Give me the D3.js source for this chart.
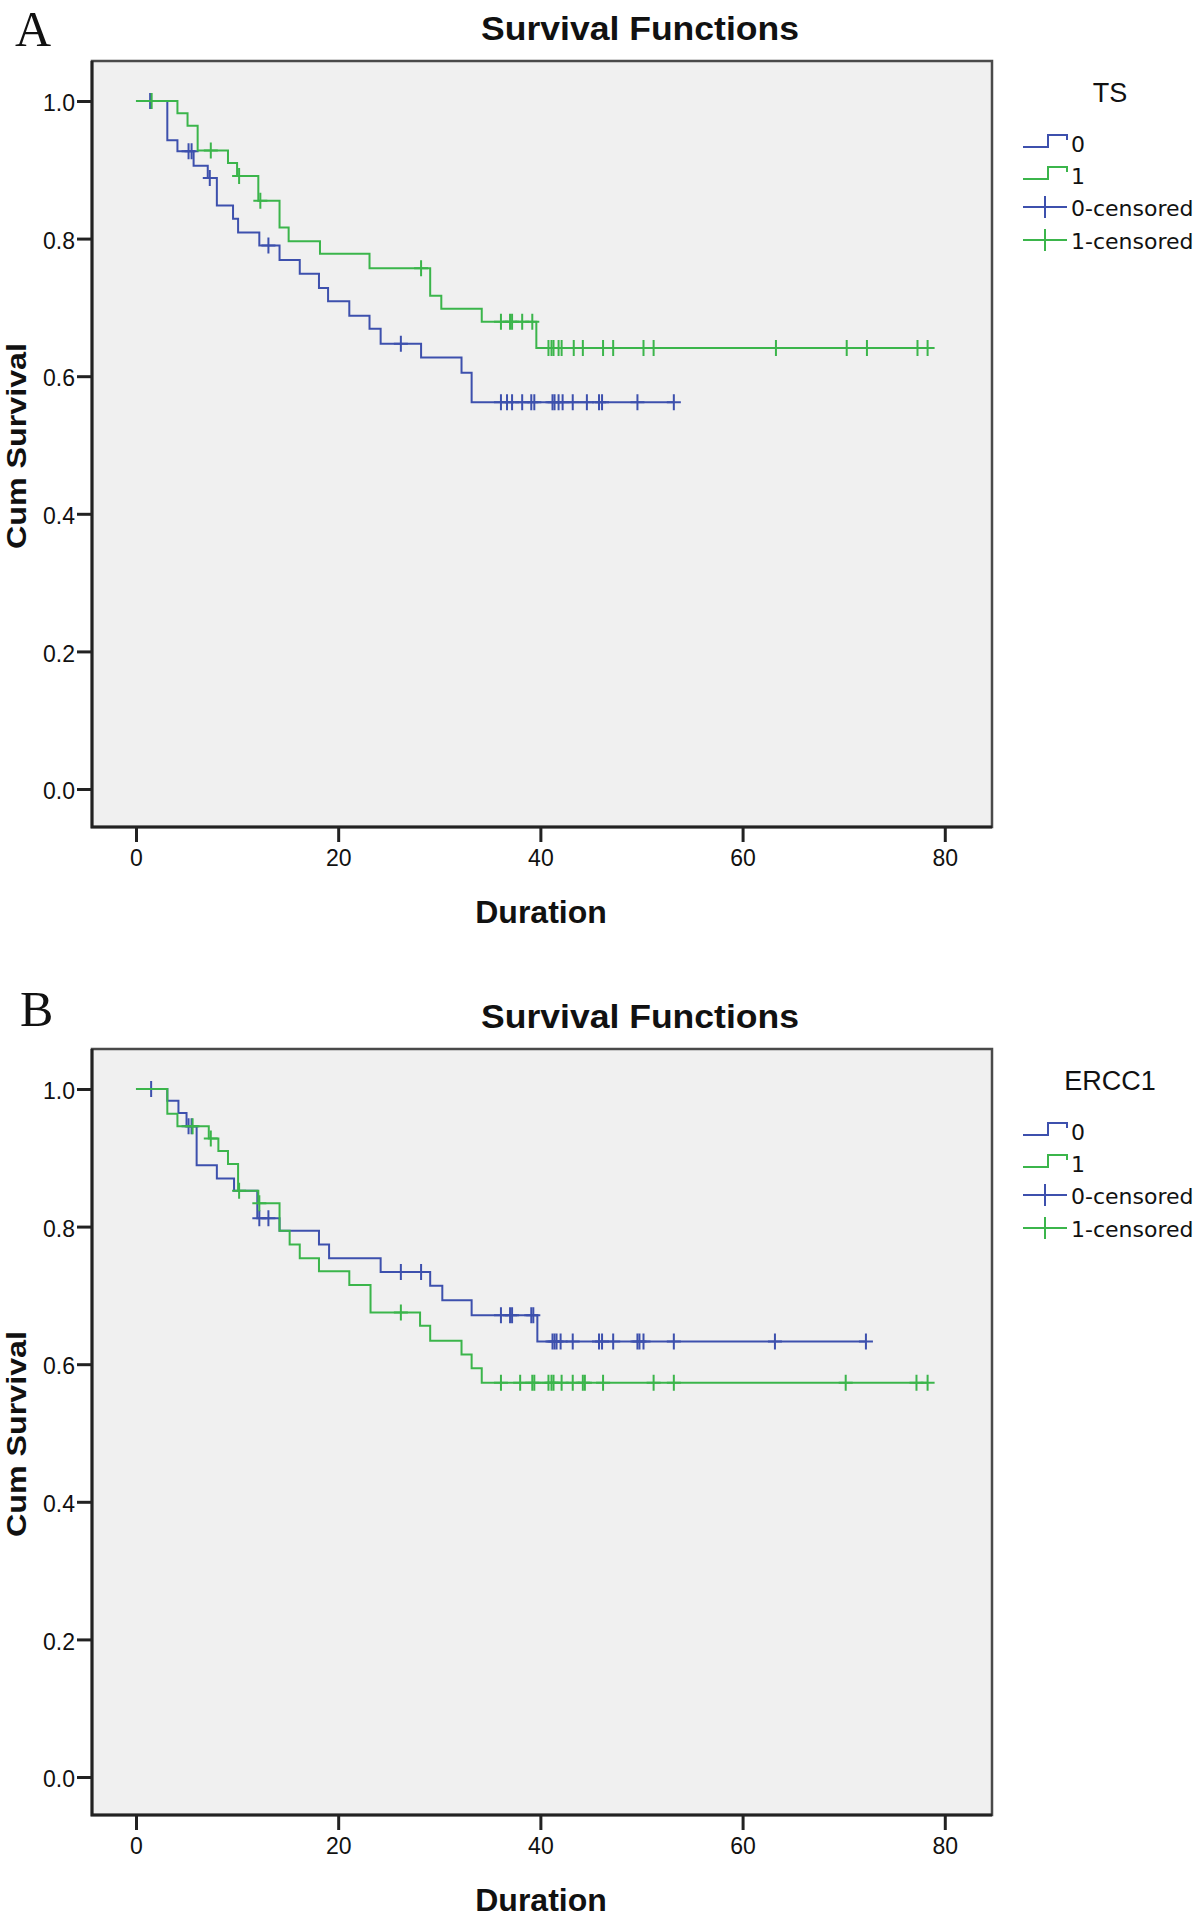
<!DOCTYPE html>
<html>
<head>
<meta charset="utf-8">
<script src="https://cdn.jsdelivr.net/npm/d3@7"></script>
<style>
  body { margin: 0; background: #fff; }
  text { font-family: "Liberation Sans", Arial, sans-serif; fill: #111; }
</style>
</head>
<body>
<div id="chart"></div>
<script>
// Panel A - TS
var tsTimes0 = [3.1, 4.1, 5.7, 7.1, 8.0, 9.6, 10.1, 12.2, 14.2, 16.2, 18.1, 19.0, 21.1, 23.1, 24.2, 28.2, 32.2, 33.2];
var tsSurv0  = [0.943, 0.927, 0.906, 0.888, 0.848, 0.829, 0.809, 0.790, 0.769, 0.749, 0.728, 0.709, 0.688, 0.669, 0.647, 0.627, 0.605, 0.562];
var tsCens0  = [1.4, 5.2, 5.5, 7.3, 13.1, 26.2, 36.1, 36.7, 37.2, 38.2, 39.1, 39.4, 41.2, 41.4, 41.8, 42.2, 43.2, 44.6, 45.8, 46.1, 49.6, 53.2];

var tsTimes1 = [4.1, 5.1, 6.1, 9.1, 10.0, 12.1, 14.2, 15.1, 18.2, 23.1, 29.1, 30.2, 34.2, 39.6];
var tsSurv1  = [0.982, 0.964, 0.928, 0.910, 0.891, 0.855, 0.816, 0.796, 0.778, 0.757, 0.717, 0.698, 0.679, 0.641];
var tsCens1  = [1.55, 7.4, 10.2, 12.3, 28.2, 36.1, 37.0, 37.2, 38.2, 39.2, 40.8, 41.1, 41.3, 41.8, 42.1, 43.3, 44.2, 46.2, 47.2, 50.2, 51.2, 63.3, 70.3, 72.3, 77.3, 78.3];

// Panel B - ERCC1
var erTimes0 = [3.1, 4.2, 5.0, 6.0, 8.0, 9.7, 12.0, 14.2, 18.1, 19.1, 24.2, 29.1, 30.3, 33.2, 39.7];
var erSurv0  = [0.983, 0.965, 0.946, 0.889, 0.870, 0.852, 0.812, 0.794, 0.774, 0.754, 0.734, 0.714, 0.693, 0.671, 0.633];
var erCens0  = [1.5, 5.2, 5.5, 12.2, 13.1, 26.2, 28.2, 36.1, 37.0, 37.2, 39.1, 39.3, 41.2, 41.4, 41.6, 42.0, 43.2, 45.8, 46.1, 47.2, 49.6, 49.8, 50.2, 53.2, 63.2, 72.2];

var erTimes1 = [3.1, 4.1, 7.2, 8.15, 9.1, 10.1, 12.1, 14.2, 15.2, 16.2, 18.1, 21.1, 23.2, 28.1, 29.1, 32.2, 33.2, 34.2];
var erSurv1  = [0.964, 0.946, 0.928, 0.910, 0.891, 0.852, 0.834, 0.794, 0.774, 0.754, 0.735, 0.715, 0.675, 0.656, 0.634, 0.614, 0.594, 0.573];
var erCens1  = [5.6, 7.4, 10.2, 12.2, 26.2, 36.1, 38.0, 39.2, 39.4, 40.8, 41.1, 41.3, 42.1, 43.2, 44.2, 44.4, 46.2, 51.2, 53.2, 70.2, 77.2, 78.3];

var xTicks = [0, 20, 40, 60, 80];
var yTicks = [0.0, 0.2, 0.4, 0.6, 0.8, 1.0];
var legendLabels = ["0", "1", "0-censored", "1-censored"];

var colors = ["#3d50ad", "#3bb54b"];

var svgWidth = 1200;
var svgHeight = 1917;

var svg = d3.select("#chart")
  .append("svg")
  .attr("width", svgWidth)
  .attr("height", svgHeight);

// plot frame (same for both panels, panel B is shifted down)
var frame = { left: 92, right: 992, top: 61, bottom: 827 };

var xScale = d3.scaleLinear()
  .domain([-4.35, 84.67])
  .range([frame.left, frame.right]);

var yScale = d3.scaleLinear()
  .domain([-0.0552, 1.0581])
  .range([frame.bottom, frame.top]);

var panels = [
  { letter: "A", letterX: 15, letterY: 46, offset: 0, legend: "TS",
    groups: [[tsTimes0, tsSurv0, tsCens0], [tsTimes1, tsSurv1, tsCens1]] },
  { letter: "B", letterX: 20, letterY: 1026, offset: 988, legend: "ERCC1",
    groups: [[erTimes0, erSurv0, erCens0], [erTimes1, erSurv1, erCens1]] }
];

function survAt(times, surv, t) {
  var s = 1;
  for (var i = 0; i < times.length; i++) {
    if (times[i] <= t) s = surv[i];
  }
  return s;
}

var stepLine = d3.line()
  .x(d => xScale(d[0]))
  .y(d => yScale(d[1]))
  .curve(d3.curveStepAfter);

panels.forEach(function(p) {
  // panel letter
  svg.append("text")
    .attr("x", p.letterX)
    .attr("y", p.letterY)
    .style("font-family", "'Liberation Serif', 'Times New Roman', serif")
    .style("font-size", "50px")
    .text(p.letter);

  var g = svg.append("g")
    .attr("transform", `translate(0, ${p.offset})`);

  // title
  g.append("text")
    .attr("x", 640)
    .attr("y", 40)
    .attr("text-anchor", "middle")
    .style("font-size", "34px")
    .style("font-weight", "bold")
    .attr("textLength", 318)
    .attr("lengthAdjust", "spacingAndGlyphs")
    .text("Survival Functions");

  // plot background
  g.append("rect")
    .attr("x", frame.left)
    .attr("y", frame.top)
    .attr("width", frame.right - frame.left)
    .attr("height", frame.bottom - frame.top)
    .attr("fill", "#f0f0f0")
    .attr("stroke", "#4a4a4a")
    .attr("stroke-width", 2.5);

  // darker left and bottom edges
  g.append("path")
    .attr("d", `M${frame.left},${frame.top} V${frame.bottom} H${frame.right}`)
    .attr("fill", "none")
    .attr("stroke", "#222")
    .attr("stroke-width", 3);

  // axes
  var yAxis = d3.axisLeft(yScale)
    .tickValues(yTicks)
    .tickFormat(d3.format(".1f"))
    .tickSize(14)
    .tickPadding(2);

  var xAxis = d3.axisBottom(xScale)
    .tickValues(xTicks)
    .tickFormat(d3.format("d"))
    .tickSize(14)
    .tickPadding(8);

  var yG = g.append("g")
    .attr("transform", `translate(${frame.left - 1}, 0)`)
    .call(yAxis);

  var xG = g.append("g")
    .attr("transform", `translate(0, ${frame.bottom + 1})`)
    .call(xAxis);

  [yG, xG].forEach(function(ax) {
    ax.select(".domain").remove();
    ax.selectAll(".tick line").attr("stroke", "#222").attr("stroke-width", 3);
    ax.selectAll(".tick text")
      .style("font-size", "23px")
      .style("font-family", "'Liberation Sans', Arial, sans-serif")
      .attr("fill", "#111");
  });
  yG.selectAll(".tick text").attr("dy", "0.42em");

  // axis labels
  g.append("text")
    .attr("transform", "translate(26, 446) rotate(-90)")
    .attr("text-anchor", "middle")
    .style("font-size", "28px")
    .style("font-weight", "bold")
    .attr("textLength", 206)
    .attr("lengthAdjust", "spacingAndGlyphs")
    .text("Cum Survival");

  g.append("text")
    .attr("x", 541)
    .attr("y", 923)
    .attr("text-anchor", "middle")
    .style("font-size", "32px")
    .style("font-weight", "bold")
    .text("Duration");

  // survival curves
  p.groups.forEach(function(grp, gi) {
    var times = grp[0], surv = grp[1], cens = grp[2];
    var endT = Math.max(times[times.length - 1], d3.max(cens));
    var pts = [[0, 1]];
    times.forEach((t, i) => pts.push([t, surv[i]]));
    pts.push([endT, surv[surv.length - 1]]);

    g.append("path")
      .datum(pts)
      .attr("d", stepLine)
      .attr("fill", "none")
      .attr("stroke", colors[gi])
      .attr("stroke-width", 2);

    g.append("g").selectAll("path.cens")
      .data(cens)
      .enter()
      .append("path")
      .attr("class", "cens")
      .attr("d", function(t) {
        var cx = xScale(t), cy = yScale(survAt(times, surv, t));
        return `M${cx - 7},${cy} H${cx + 7} M${cx},${cy - 8} V${cy + 8}`;
      })
      .attr("fill", "none")
      .attr("stroke", colors[gi])
      .attr("stroke-width", 2);
  });

  // legend
  var lg = g.append("g");
  lg.append("text")
    .attr("x", 1110)
    .attr("y", 102)
    .attr("text-anchor", "middle")
    .style("font-size", "27px")
    .text(p.legend);

  var rowY = [152, 184, 216, 249];
  legendLabels.forEach(function(lbl, i) {
    var by = rowY[i];
    var col = colors[i % 2];
    if (i < 2) {
      lg.append("path")
        .attr("d", `M1023,${by - 5} H1048 V${by - 17} H1067 V${by - 12}`)
        .attr("fill", "none")
        .attr("stroke", col)
        .attr("stroke-width", 2);
    } else {
      lg.append("path")
        .attr("d", `M1023,${by - 9} H1067 M1045,${by - 20} V${by + 2}`)
        .attr("fill", "none")
        .attr("stroke", col)
        .attr("stroke-width", 2);
    }
    lg.append("text")
      .attr("x", 1071)
      .attr("y", by)
      .style("font-family", "'DejaVu Sans', sans-serif")
      .style("font-size", "22px")
      .text(lbl);
  });
});
</script>
</body>
</html>
